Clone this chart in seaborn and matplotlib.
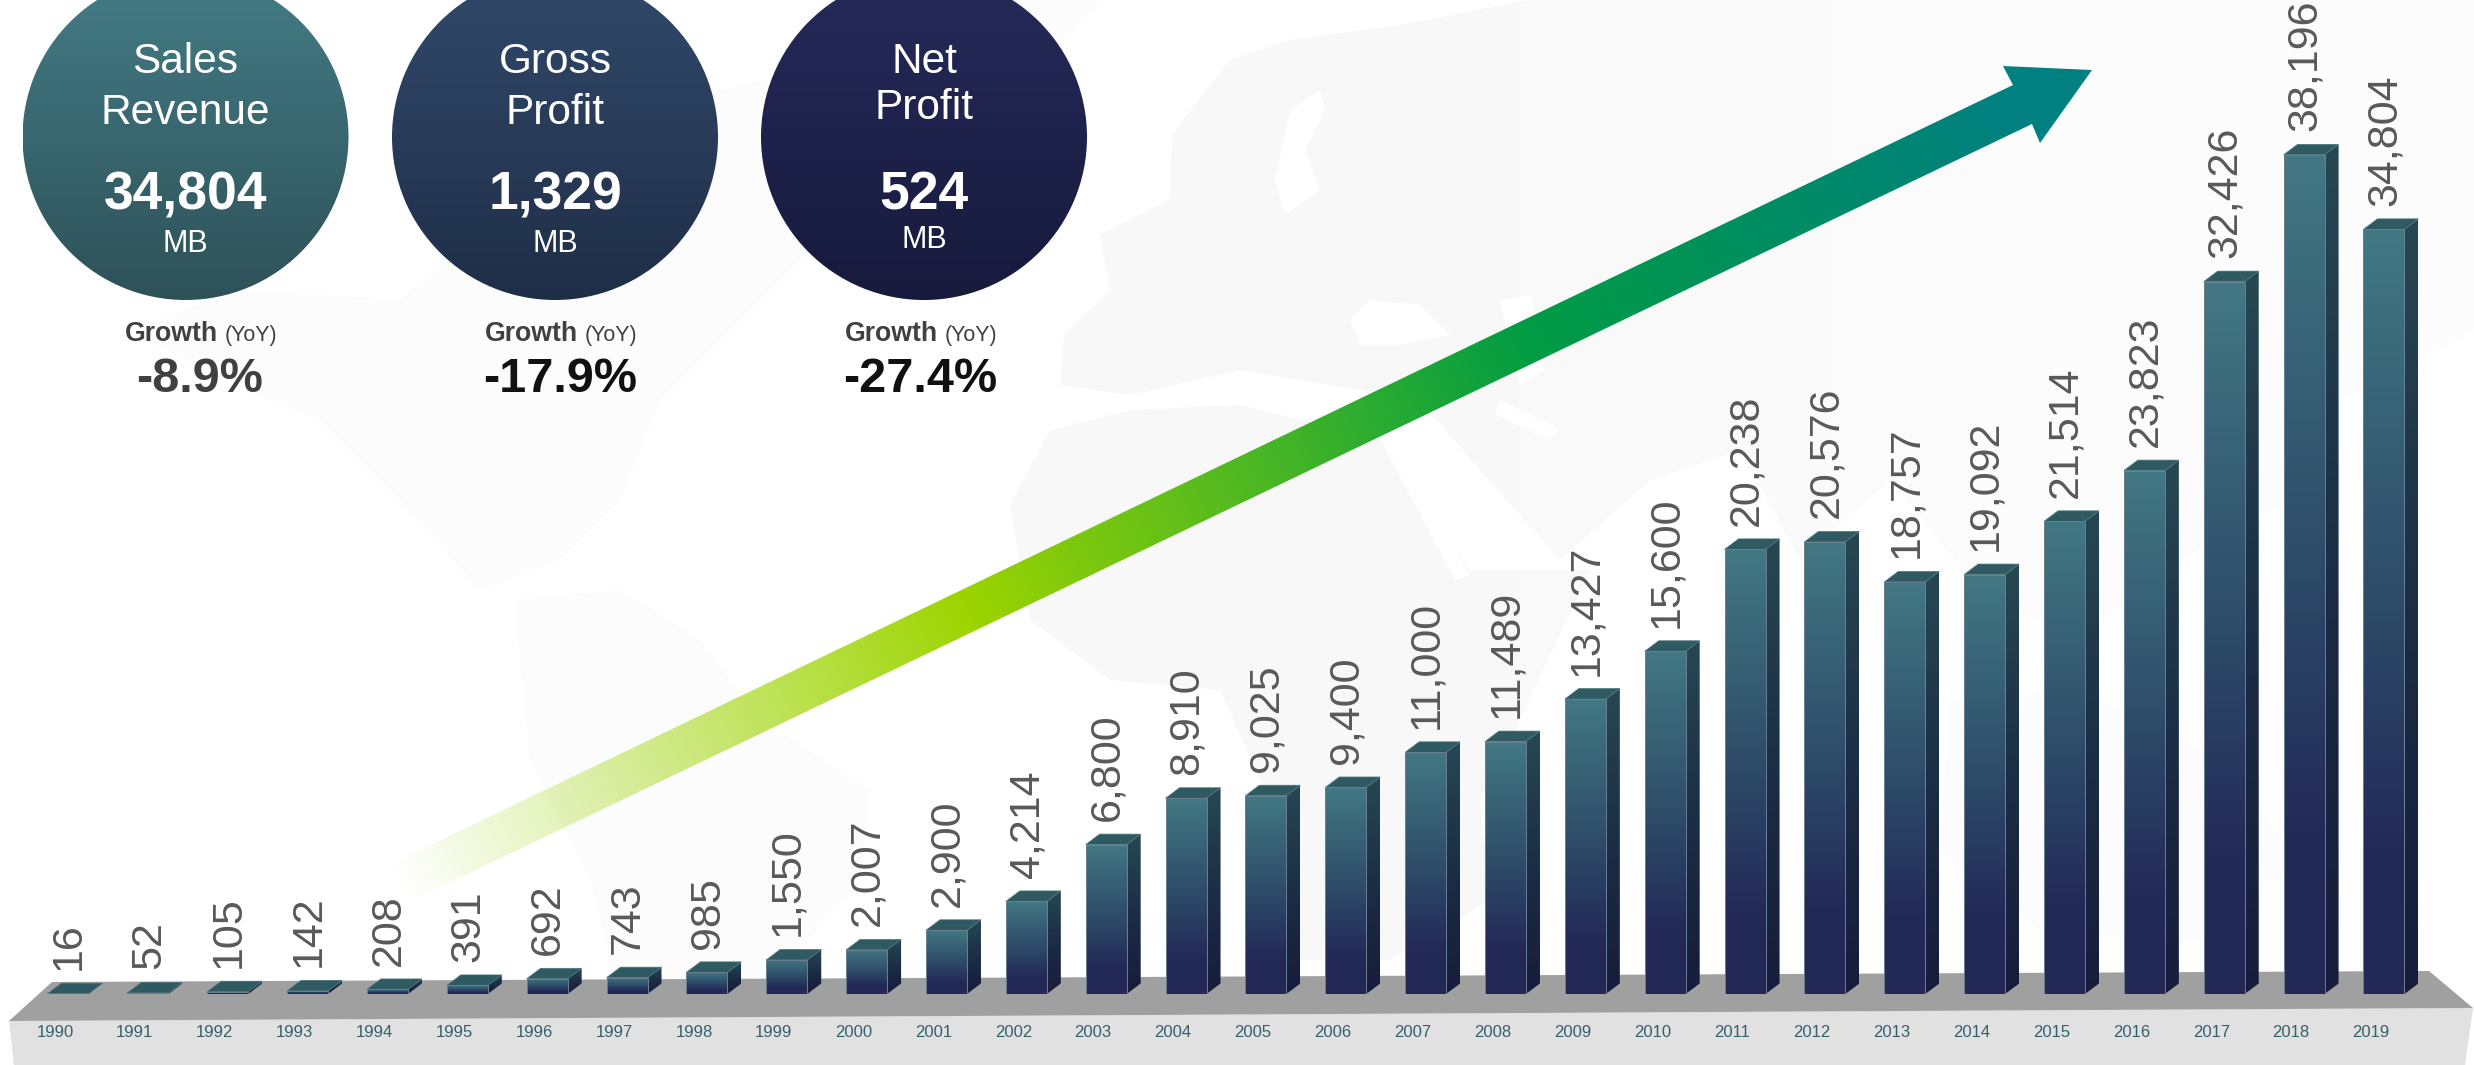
import numpy as np
import pandas as pd
import matplotlib
matplotlib.use('Agg')
import matplotlib.pyplot as plt
import seaborn as sns
from matplotlib.colors import LinearSegmentedColormap
from matplotlib.patches import Circle, Polygon

years = ['1990', '1991', '1992', '1993', '1994', '1995', '1996', '1997', '1998', '1999',
         '2000', '2001', '2002', '2003', '2004', '2005', '2006', '2007', '2008', '2009',
         '2010', '2011', '2012', '2013', '2014', '2015', '2016', '2017', '2018', '2019']
sales = [16, 52, 105, 142, 208, 391, 692, 743, 985, 1550,
         2007, 2900, 4214, 6800, 8910, 9025, 9400, 11000, 11489, 13427,
         15600, 20238, 20576, 18757, 19092, 21514, 23823, 32426, 38196, 34804]

kpi_titles = ['Sales\nRevenue', 'Gross\nProfit', 'Net\nProfit']
kpi_values = ['34,804', '1,329', '524']
kpi_growth = ['-8.9%', '-17.9%', '-27.4%']

W, H = 2474, 1065
BASE_Y = 994
PX_PER_UNIT = 0.02197
STEP = 79.86
FIRST_X = 68.0

sns.set_style('white')
plt.rcParams['font.family'] = ['Liberation Sans', 'DejaVu Sans']

front_cmap = LinearSegmentedColormap.from_list('front', [(0, '#427883'), (0.5, '#2d4a68'), (0.82, '#232957'), (1, '#232957')])
side_cmap = LinearSegmentedColormap.from_list('side', [(0, '#264852'), (0.5, '#1c2d45'), (1, '#171c3a')])
arrow_cmap = LinearSegmentedColormap.from_list('arrow', [(0, '#9dd400'), (0.334, '#9dd400'), (0.668, '#009c44'), (0.95, '#008080'), (1, '#008080')])


def vgrad(c1, c2):
    cm = LinearSegmentedColormap.from_list('g', [c1, c2])
    return cm(np.linspace(0, 1, 256))[:, None, :]


fig = plt.figure(figsize=(W / 100, H / 100), dpi=100, facecolor='white')

# background layer, in pixels
bg = fig.add_axes([0, 0, 1, 1])
bg.set_xlim(0, W)
bg.set_ylim(H, 0)
bg.set_autoscale_on(False)
bg.axis('off')

# faint world map, fades out towards the right
land_far = [
    [(130, 330), (240, 290), (400, 300), (470, 240), (560, 210), (640, 130), (720, 90), (850, 60), (960, 0), (1100, 0),
     (1040, 70), (960, 130), (860, 200), (760, 300), (660, 400), (620, 500), (560, 560), (480, 590), (400, 500), (320, 420), (220, 380)],
    [(514, 600), (620, 590), (700, 640), (760, 720), (870, 790), (860, 880), (790, 960), (760, 1000), (620, 1000), (590, 880), (530, 760)],
    [(1950, 700), (2080, 690), (2220, 760), (2300, 860), (2200, 940), (2040, 930), (1940, 850)],
]
land_near = [
    [(1064, 335), (1110, 290), (1100, 235), (1170, 200), (1172, 134), (1230, 60), (1290, 40), (1400, 25), (1530, 0), (2474, 0), (2474, 330),
     (2340, 400), (2290, 500), (2180, 560), (2080, 640), (1980, 590), (1890, 480), (1800, 560), (1740, 450), (1650, 480), (1560, 560),
     (1480, 470), (1420, 400), (1330, 385), (1240, 370), (1130, 395), (1060, 385)],
    [(1010, 505), (1050, 430), (1130, 410), (1240, 405), (1380, 440), (1470, 570), (1590, 570), (1520, 720), (1480, 800), (1490, 900),
     (1390, 960), (1300, 960), (1270, 800), (1220, 690), (1110, 680), (1030, 620)],
]
seas = [
    [(1275, 180), (1290, 110), (1320, 90), (1325, 110), (1305, 150), (1320, 190), (1285, 215)],
    [(1350, 320), (1370, 300), (1420, 305), (1450, 335), (1400, 345), (1360, 345)],
    [(1500, 300), (1530, 295), (1545, 370), (1520, 385)],
    [(1385, 448), (1400, 450), (1470, 575), (1455, 580)],
    [(1500, 400), (1560, 430), (1550, 440), (1495, 415)],
]
for poly in land_far:
    bg.add_patch(Polygon(poly, closed=True, fc='#fcfcfc', ec='none', zorder=1))
land_fade = LinearSegmentedColormap.from_list('land', [(0, '#f8f8f8'), (0.55, '#f8f8f8'), (0.8, '#fcfcfc'), (1, '#fcfcfc')])
for poly in land_near:
    shape = Polygon(poly, closed=True, transform=bg.transData)
    lim = bg.imshow(land_fade(np.linspace(0, 1, 512))[None, :, :], extent=(0, W, H, 0), origin='upper', aspect='auto', zorder=1.1)
    lim.set_clip_path(shape)
for poly in seas:
    bg.add_patch(Polygon(poly, closed=True, fc='#ffffff', ec='none', zorder=1.2))

# arrow
tail = np.array([400.0, 883.0])
tip = np.array([2092.0, 70.0])
axis_vec = tip - tail
xx, yy = np.meshgrid(np.arange(W) + 0.5, np.arange(H) + 0.5)
t = np.clip(((xx - tail[0]) * axis_vec[0] + (yy - tail[1]) * axis_vec[1]) / (axis_vec @ axis_vec), 0, 1)
arrow_img = arrow_cmap(t)
arrow_img[..., 3] = np.clip(t / 0.334, 0, 1)
arrow_shape = Polygon([(393, 863), (2013, 85), (2003, 66), (2092, 70), (2040, 143), (2032, 124), (407, 903)],
                      closed=True, transform=bg.transData)
im = bg.imshow(arrow_img, extent=(0, W, H, 0), origin='upper', aspect='auto', zorder=2)
im.set_clip_path(arrow_shape)

# floor
bg.add_patch(Polygon([(9, 1021), (2473, 1008), (2465, H), (14, H)], closed=True, fc='#e1e1e1', ec='none', zorder=3))
bg.add_patch(Polygon([(52, 982), (2429, 971), (2473, 1008), (9, 1021)], closed=True, fc='#a0a0a0', ec='none', zorder=3))

# KPI circles
circle_x = [185.5, 555, 924]
circle_y = 137
circle_r = 163
circle_colors = [('#447c86', '#2e5158'), ('#31496b', '#1f2e47'), ('#252a5a', '#171a3c')]
title_y = [(62, 113), (62, 113), (62, 108)]
value_y = [195, 195, 195]
unit_y = [244, 244, 240]
growth_x = [200, 560, 920]
growth_colors = ['#404040', '#111111', '#111111']
for i, cx in enumerate(circle_x):
    c = Circle((cx, circle_y), circle_r, transform=bg.transData)
    g = bg.imshow(vgrad(*circle_colors[i]), extent=(cx - circle_r, cx + circle_r, circle_y + circle_r, circle_y - circle_r),
                  origin='upper', aspect='auto', zorder=4)
    g.set_clip_path(c)
    for line, ly in zip(kpi_titles[i].split('\n'), title_y[i]):
        bg.text(cx, ly, line, color='white', fontsize=30.5, ha='center', va='center', zorder=5)
    bg.text(cx, value_y[i], kpi_values[i], color='white', fontsize=38.5, fontweight='bold', ha='center', va='center', zorder=5)
    bg.text(cx, unit_y[i], 'MB', color='white', fontsize=22, ha='center', va='center', zorder=5)
    gx = growth_x[i]
    bg.text(gx + 18, 334, 'Growth', color='#404040', fontsize=19.2, fontweight='bold', ha='right', va='center', zorder=5)
    bg.text(gx + 25, 335, '(YoY)', color='#404040', fontsize=15.5, ha='left', va='center', zorder=5)
    bg.text(gx, 380, kpi_growth[i], color=growth_colors[i], fontsize=35, fontweight='bold', ha='center', va='center', zorder=5)

# bars layer: y=0 sits on the baseline of the floor
ax = fig.add_axes([0, (H - BASE_Y) / H, 1, BASE_Y / H])
df = pd.DataFrame({'year': years, 'sales': sales})
sns.barplot(data=df, x='year', y='sales', ax=ax, width=41 / STEP, color='#232957', saturation=1)
ax.set_xlim(-FIRST_X / STEP, (W - FIRST_X) / STEP)
ax.set_ylim(0, BASE_Y / PX_PER_UNIT)
ax.set_autoscale_on(False)
ax.patch.set_visible(False)
sns.despine(ax=ax, left=True, bottom=True)
ax.set_xlabel('')
ax.set_ylabel('')
ax.set_yticks([])
ax.set_xticks(np.arange(len(years)) - 13 / STEP)
ax.set_xticklabels(years, fontsize=12, color='#35606a')
ax.tick_params(axis='x', length=0, pad=22)

dx = 14 / STEP
dy = 10.5 / PX_PER_UNIT
for bar, val in zip(ax.patches, sales):
    l, r = bar.get_x(), bar.get_x() + bar.get_width()
    h = bar.get_height()
    # right side
    side = Polygon([(r, 0), (r + dx, dy), (r + dx, h + dy), (r, h)], closed=True, transform=ax.transData)
    s = ax.imshow(side_cmap(np.linspace(0, 1, 256))[:, None, :], extent=(r, r + dx, 0, h + dy), origin='upper', aspect='auto', zorder=3)
    s.set_clip_path(side)
    # top
    ax.add_patch(Polygon([(l, h), (r, h), (r + dx, h + dy), (l + dx, h + dy)], closed=True, fc='#2f5a62', ec='#4f7780', lw=0.5, zorder=3.2))
    # front
    f = ax.imshow(front_cmap(np.linspace(0, 1, 256))[:, None, :], extent=(l, r, 0, h), origin='upper', aspect='auto', zorder=3.1)
    f.set_clip_path(bar)
    bar.set_facecolor('none')
    bar.set_edgecolor('#6b8090')
    bar.set_linewidth(0.7)
    bar.set_zorder(3.3)
    ax.text((l + r) / 2 + 1 / STEP, h + dy + 13 / PX_PER_UNIT, f'{val:,}', rotation=90, ha='center', va='bottom',
            fontsize=31, color='#595959', zorder=4)

fig.savefig('out.png', dpi=100)
plt.close(fig)
